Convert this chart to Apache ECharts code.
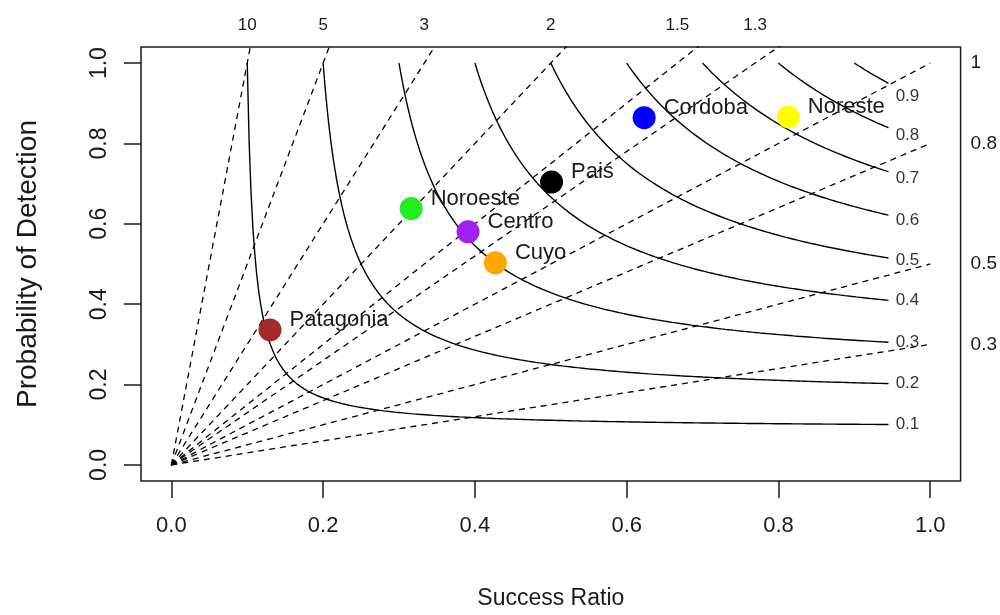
<!DOCTYPE html>
<html>
<head>
<meta charset="utf-8">
<script src="https://cdn.jsdelivr.net/npm/echarts@6.0.0/dist/echarts.min.js"></script>
<style>
  html, body { margin: 0; padding: 0; background: #fff; }
  #chart { width: 1000px; height: 615px; }
</style>
</head>
<body>
<div id="chart"></div>
<script>
// forecast verification points (success ratio, probability of detection)
const REGIONS = ["Patagonia", "Noroeste", "Centro", "Cuyo", "Pais", "Cordoba", "Noreste"];
const SUCCESS_RATIO = [0.130, 0.316, 0.391, 0.427, 0.501, 0.623, 0.813];
const PROB_DETECTION = [0.336, 0.638, 0.580, 0.503, 0.704, 0.864, 0.866];
const REGION_COLORS = ["#A52A2A", "#22EE22", "#A020F0", "#FFA500", "#000000", "#0000FF", "#FFFF00"];

// background isolines
const CSI_LEVELS = [0.1, 0.2, 0.3, 0.4, 0.5, 0.6, 0.7, 0.8, 0.9];
const CSI_LABEL_POD = [0.100, 0.203, 0.305, 0.410, 0.508, 0.608, 0.714, 0.821, 0.918];
const BIAS_LEVELS = [0.3, 0.5, 0.8, 1, 1.3, 1.5, 2, 3, 5, 10];
const AXIS_TICKS = [0, 0.2, 0.4, 0.6, 0.8, 1.0];

const SANS = '"Liberation Sans", Arial, sans-serif';
const INK = "#1a1a1a";
const CSI_END = 0.945;

// CSI isoline: 1/CSI = 1/SR + 1/POD - 1
function csiCurve(c) {
  const pts = [];
  for (let sr = c; sr <= CSI_END + 1e-9; sr += 0.0025) {
    pts.push([sr, 1 / (1 / c - 1 / sr + 1)]);
  }
  return pts;
}

const chart = echarts.init(document.getElementById("chart"), null, { renderer: "canvas" });

const series = [];

BIAS_LEVELS.forEach((b) => {
  series.push({
    type: "line",
    data: [[0, 0], [1, b]],
    symbol: "none",
    silent: true,
    z: 2,
    lineStyle: { color: "#000", width: 1.3, type: [6, 5] },
  });
});

CSI_LEVELS.forEach((c) => {
  series.push({
    type: "line",
    data: csiCurve(c),
    symbol: "none",
    silent: true,
    z: 3,
    lineStyle: { color: "#000", width: 1.4 },
  });
});

series.push({
  type: "scatter",
  data: CSI_LEVELS.map((c, i) => [0.97, CSI_LABEL_POD[i], c]),
  symbolSize: 1,
  itemStyle: { color: "rgba(0,0,0,0)" },
  silent: true,
  clip: false,
  z: 4,
  label: {
    show: true,
    position: "inside",
    formatter: (p) => String(p.value[2]),
    color: "#000",
    fontSize: 17,
    fontFamily: SANS,
  },
});

series.push({
  type: "scatter",
  data: REGIONS.map((r, i) => ({
    name: r,
    value: [SUCCESS_RATIO[i], PROB_DETECTION[i]],
    itemStyle: { color: REGION_COLORS[i], opacity: 1 },
  })),
  symbolSize: 23,
  z: 10,
  label: {
    show: true,
    position: "right",
    distance: 8,
    offset: [0, -10],
    formatter: (p) => p.name,
    color: INK,
    fontSize: 22,
    fontFamily: SANS,
  },
});

chart.setOption({
  backgroundColor: "#fff",
  animation: false,
  grid: {
    left: 141, right: 39, top: 47, bottom: 133,
    show: true, borderColor: INK, borderWidth: 1.5, backgroundColor: "transparent",
  },
  xAxis: [
    {
      type: "value", min: -0.04, max: 1.04, position: "bottom",
      name: "Success Ratio", nameLocation: "middle", nameGap: 106,
      nameTextStyle: { color: INK, fontSize: 23, fontFamily: SANS },
      axisLine: { show: false, onZero: false },
      splitLine: { show: false },
      axisTick: {
        show: true, customValues: AXIS_TICKS, length: 17,
        lineStyle: { color: INK, width: 1.5 },
      },
      axisLabel: {
        customValues: AXIS_TICKS, margin: 34,
        formatter: (v) => v.toFixed(1),
        color: INK, fontSize: 22, fontFamily: SANS,
      },
    },
    {
      type: "value", min: -0.04, max: 1.04, position: "top",
      axisLine: { show: false, onZero: false }, axisTick: { show: false }, splitLine: { show: false },
      axisLabel: {
        customValues: BIAS_LEVELS.filter((b) => b > 1).map((b) => 1 / b),
        margin: 13,
        formatter: (v) => String(Math.round(10 / v) / 10),
        color: INK, fontSize: 17, fontFamily: SANS,
      },
    },
  ],
  yAxis: [
    {
      type: "value", min: -0.04, max: 1.04, position: "left",
      name: "Probability of Detection", nameLocation: "middle", nameGap: 99,
      nameTextStyle: { color: INK, fontSize: 28, fontFamily: SANS },
      axisLine: { show: false, onZero: false },
      splitLine: { show: false },
      axisTick: {
        show: true, customValues: AXIS_TICKS, length: 17,
        lineStyle: { color: INK, width: 1.5 },
      },
      axisLabel: {
        customValues: AXIS_TICKS, margin: 30, rotate: 90,
        formatter: (v) => v.toFixed(1),
        color: INK, fontSize: 23, fontFamily: SANS,
      },
    },
    {
      type: "value", min: -0.04, max: 1.04, position: "right",
      axisLine: { show: false, onZero: false }, axisTick: { show: false }, splitLine: { show: false },
      axisLabel: {
        customValues: BIAS_LEVELS.filter((b) => b <= 1),
        margin: 10,
        formatter: (v) => String(v),
        color: INK, fontSize: 19, fontFamily: SANS,
      },
    },
  ],
  series,
});
</script>
</body>
</html>
